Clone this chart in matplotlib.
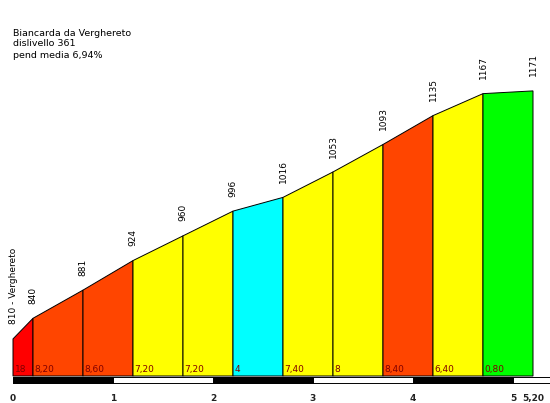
import matplotlib
matplotlib.use("Agg")
import matplotlib.pyplot as plt
from matplotlib.patches import Polygon, Rectangle

# climb profile data
dist_km = [0.0, 0.2, 0.7, 1.2, 1.7, 2.2, 2.7, 3.2, 3.7, 4.2, 4.7, 5.2]
elev_m = [810, 840, 881, 924, 960, 996, 1016, 1053, 1093, 1135, 1167, 1171]
elev_labels = ["810 - Verghereto", "840", "881", "924", "960", "996", "1016",
               "1053", "1093", "1135", "1167", "1171"]
grade_labels = ["18", "8,20", "8,60", "7,20", "7,20", "4", "7,40", "8",
                "8,40", "6,40", "0,80"]
seg_colors = ["#ff0000", "#ff4500", "#ff4500", "#ffff00", "#ffff00", "#00ffff",
              "#ffff00", "#ffff00", "#ff4500", "#ffff00", "#00ff00"]
km_ticks = [0, 1, 2, 3, 4, 5, 5.2]
km_tick_labels = ["0", "1", "2", "3", "4", "5", "5,20"]
title_lines = ["Biancarda da Verghereto", "dislivello 361", "pend media 6,94%"]

BASE = 756

fig = plt.figure(figsize=(5.5, 4.03), dpi=100)
ax = fig.add_axes([0, 0, 1, 1])
ax.set_xlim(-0.13, 5.37)
ax.set_ylim(716.7, 1303.3)
ax.axis("off")

# coloured segments
for i in range(len(dist_km) - 1):
    x0, x1 = dist_km[i], dist_km[i + 1]
    y0, y1 = elev_m[i], elev_m[i + 1]
    ax.add_patch(Polygon([(x0, BASE), (x0, y0), (x1, y1), (x1, BASE)],
                         closed=True, facecolor=seg_colors[i],
                         edgecolor="black", lw=0.7))
    ax.text(x0 + 0.015, BASE + 3, grade_labels[i], fontsize=6.5,
            color="#800000", ha="left", va="bottom")

# elevation labels
for x, y, lab in zip(dist_km, elev_m, elev_labels):
    ax.text(x, y + 21, lab, rotation=90, fontsize=6.5, ha="center",
            va="bottom", color="black")

# km bar
ax.add_patch(Rectangle((0, 746), 5.37, 9, facecolor="white",
                       edgecolor="black", lw=0.7))
for k in range(0, 5, 2):
    ax.add_patch(Rectangle((k, 746), 1, 9, facecolor="black",
                           edgecolor="black", lw=0.7))

for x, lab in zip(km_ticks, km_tick_labels):
    ax.text(x, 723, lab, fontsize=6.5, ha="center", va="center",
            fontweight="bold", color="#222222")

for i, line in enumerate(title_lines):
    fig.text(13 / 550, 1 - (33 + 11 * i) / 403, line, fontsize=6.8,
             ha="left", va="center")

fig.savefig("out.png", dpi=100)
